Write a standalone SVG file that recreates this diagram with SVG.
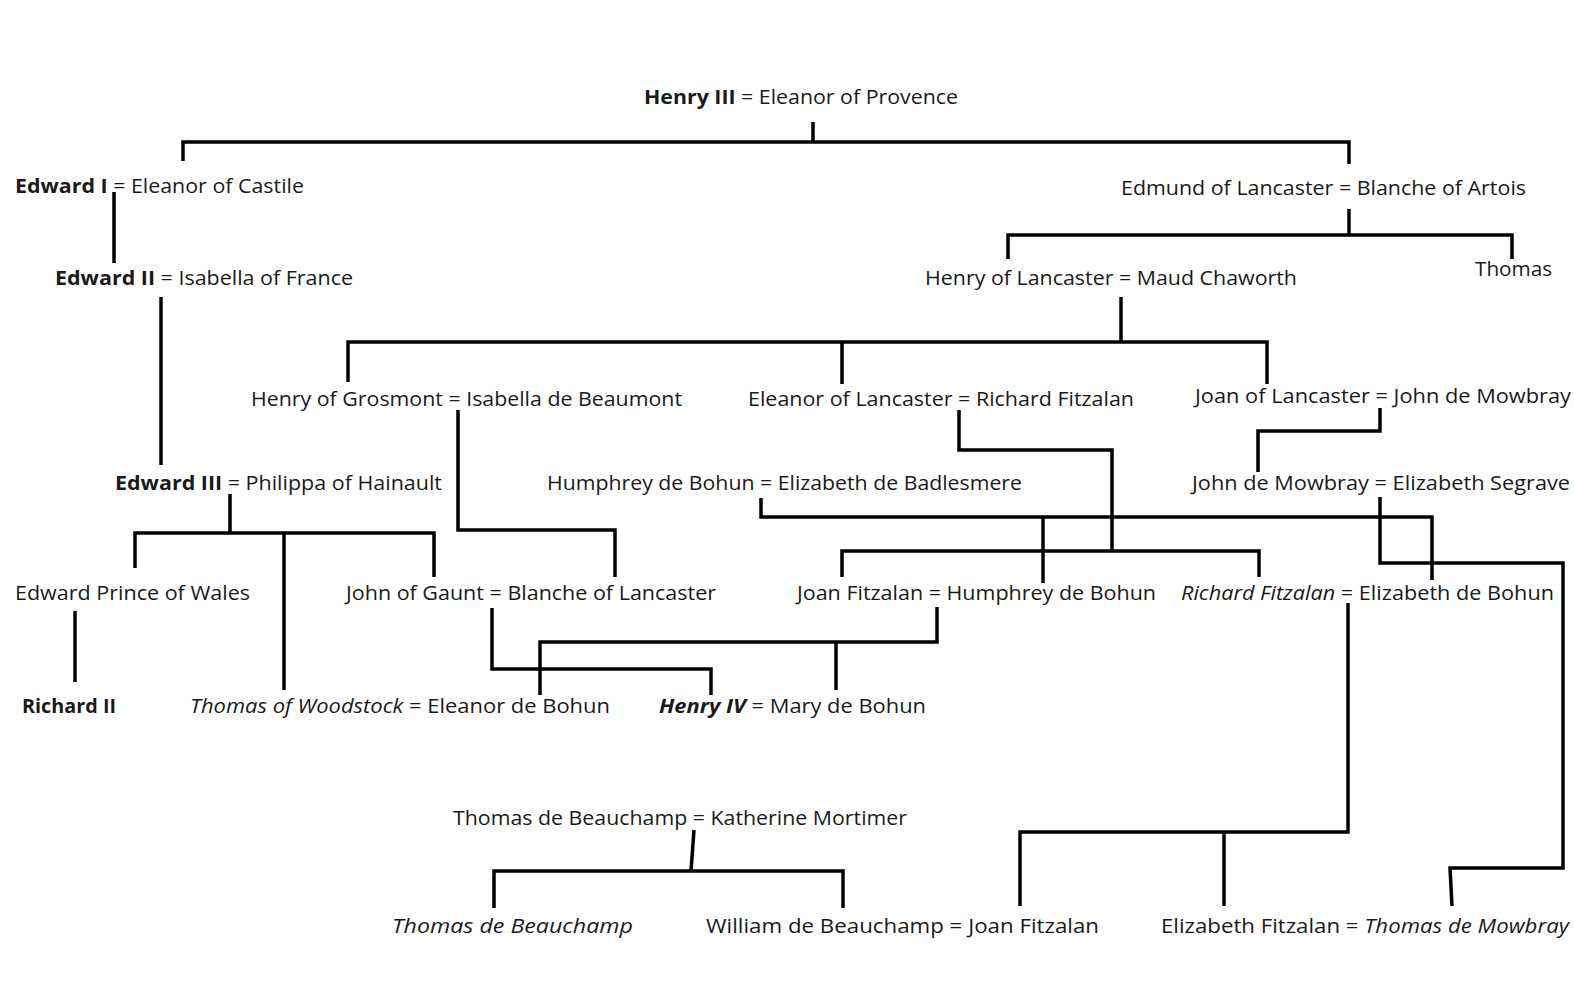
<svg xmlns="http://www.w3.org/2000/svg" width="1574" height="993" viewBox="0 0 1574 993">
<style>
  .t { font-family: "Open Sans", "Liberation Sans", sans-serif; font-size: 20px; fill: #1a1a1a; }
  .b { font-weight: bold; }
  .i { font-style: italic; }
  .bi { font-weight: bold; font-style: italic; }
  .c { fill: none; stroke: #000; stroke-width: 3.5; stroke-linejoin: miter; stroke-linecap: butt; }
</style>
<rect width="1574" height="993" fill="#fff"/>
<g id="connectors">
  <path class="c" d="M813 122 V142"/>
  <path class="c" d="M183 161 V142 H1349 V164"/>
  <path class="c" d="M114 192 V263"/>
  <path class="c" d="M161 297 V465"/>
  <path class="c" d="M1349 209 V235"/>
  <path class="c" d="M1008 259 V235 H1512 V259"/>
  <path class="c" d="M1121 297 V342"/>
  <path class="c" d="M348 382 V342 H1267 V384"/>
  <path class="c" d="M842 342 V384"/>
  <path class="c" d="M458 410 V530 H615 V577"/>
  <path class="c" d="M959 410 V450 H1112 V551"/>
  <path class="c" d="M842 577 V551 H1259 V577"/>
  <path class="c" d="M1380 408 V431 H1258 V472"/>
  <path class="c" d="M230 494 V533"/>
  <path class="c" d="M135 568 V533 H434 V577"/>
  <path class="c" d="M284 533 V690"/>
  <path class="c" d="M761 498 V517 H1432 V580"/>
  <path class="c" d="M1043 517 V583"/>
  <path class="c" d="M1380 497 V563 H1563 V868 H1450 L1452 906"/>
  <path class="c" d="M492 608 V669 H711 V695"/>
  <path class="c" d="M937 607 V642 H540 V695"/>
  <path class="c" d="M836 642 V690"/>
  <path class="c" d="M75 611 V682"/>
  <path class="c" d="M1348 603 V832 H1020 V906"/>
  <path class="c" d="M1224 832 V906"/>
  <path class="c" d="M694 830 L691 871"/>
  <path class="c" d="M494 908 V871 H843 V908"/>
</g>
<g id="henry3"><text class="t" x="644" y="104" textLength="314" lengthAdjust="spacingAndGlyphs"><tspan class="b">Henry III</tspan> = Eleanor of Provence</text></g>
<g id="edward1"><text class="t" x="15" y="193" textLength="289" lengthAdjust="spacingAndGlyphs"><tspan class="b">Edward I</tspan> = Eleanor of Castile</text></g>
<g id="edmund"><text class="t" x="1121" y="195" textLength="405" lengthAdjust="spacingAndGlyphs">Edmund of Lancaster = Blanche of Artois</text></g>
<g id="edward2"><text class="t" x="55" y="285" textLength="298" lengthAdjust="spacingAndGlyphs"><tspan class="b">Edward II</tspan> = Isabella of France</text></g>
<g id="henry-lancaster"><text class="t" x="925" y="285" textLength="372" lengthAdjust="spacingAndGlyphs">Henry of Lancaster = Maud Chaworth</text></g>
<g id="thomas"><text class="t" x="1475" y="276" textLength="77" lengthAdjust="spacingAndGlyphs">Thomas</text></g>
<g id="grosmont"><text class="t" x="251" y="406" textLength="431" lengthAdjust="spacingAndGlyphs">Henry of Grosmont = Isabella de Beaumont</text></g>
<g id="eleanor-lancaster"><text class="t" x="748" y="406" textLength="386" lengthAdjust="spacingAndGlyphs">Eleanor of Lancaster = Richard Fitzalan</text></g>
<g id="joan-lancaster"><text class="t" x="1195" y="403" textLength="376" lengthAdjust="spacingAndGlyphs">Joan of Lancaster = John de Mowbray</text></g>
<g id="edward3"><text class="t" x="115" y="490" textLength="327" lengthAdjust="spacingAndGlyphs"><tspan class="b">Edward III</tspan> = Philippa of Hainault</text></g>
<g id="humphrey-badlesmere"><text class="t" x="547" y="490" textLength="475" lengthAdjust="spacingAndGlyphs">Humphrey de Bohun = Elizabeth de Badlesmere</text></g>
<g id="mowbray-segrave"><text class="t" x="1192" y="490" textLength="378" lengthAdjust="spacingAndGlyphs">John de Mowbray = Elizabeth Segrave</text></g>
<g id="edward-prince"><text class="t" x="15" y="600" textLength="235" lengthAdjust="spacingAndGlyphs">Edward Prince of Wales</text></g>
<g id="gaunt"><text class="t" x="346" y="600" textLength="370" lengthAdjust="spacingAndGlyphs">John of Gaunt = Blanche of Lancaster</text></g>
<g id="joan-fitzalan-humphrey"><text class="t" x="797" y="600" textLength="359" lengthAdjust="spacingAndGlyphs">Joan Fitzalan = Humphrey de Bohun</text></g>
<g id="richard-fitzalan"><text class="t" x="1181" y="600" textLength="373" lengthAdjust="spacingAndGlyphs"><tspan class="i">Richard Fitzalan</tspan> = Elizabeth de Bohun</text></g>
<g id="richard2"><text class="t" x="22" y="713" textLength="94" lengthAdjust="spacingAndGlyphs"><tspan class="b">Richard II</tspan></text></g>
<g id="woodstock"><text class="t" x="190" y="713" textLength="420" lengthAdjust="spacingAndGlyphs"><tspan class="i">Thomas of Woodstock</tspan> = Eleanor de Bohun</text></g>
<g id="henry4"><text class="t" x="659" y="713" textLength="267" lengthAdjust="spacingAndGlyphs"><tspan class="bi">Henry IV</tspan> = Mary de Bohun</text></g>
<g id="beauchamp-mortimer"><text class="t" x="453" y="825" textLength="454" lengthAdjust="spacingAndGlyphs">Thomas de Beauchamp = Katherine Mortimer</text></g>
<g id="thomas-beauchamp"><text class="t" x="392" y="933" textLength="241" lengthAdjust="spacingAndGlyphs"><tspan class="i">Thomas de Beauchamp</tspan></text></g>
<g id="william-beauchamp"><text class="t" x="706" y="933" textLength="393" lengthAdjust="spacingAndGlyphs">William de Beauchamp = Joan Fitzalan</text></g>
<g id="elizabeth-fitzalan"><text class="t" x="1161" y="933" textLength="408" lengthAdjust="spacingAndGlyphs">Elizabeth Fitzalan = <tspan class="i">Thomas de Mowbray</tspan></text></g>
</svg>
